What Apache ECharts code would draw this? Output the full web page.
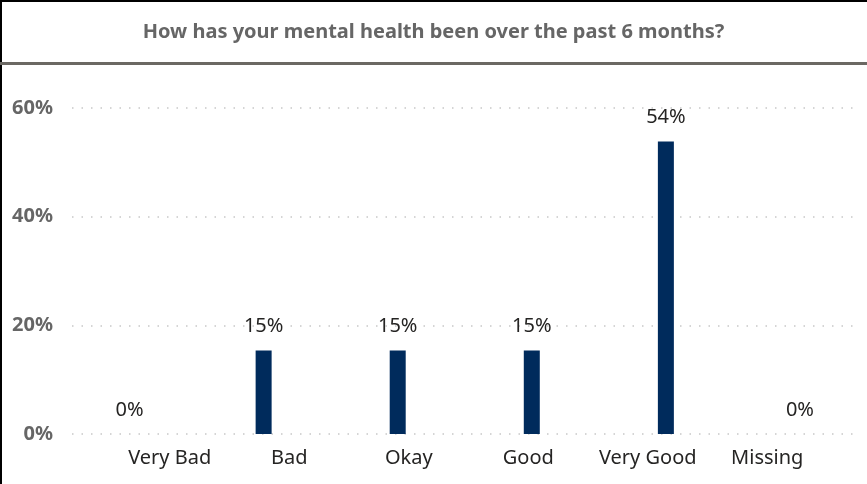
<!DOCTYPE html>
<html><head><meta charset="utf-8">
<script src="https://cdn.jsdelivr.net/npm/echarts@6/dist/echarts.min.js"></script>
<style>
html,body{margin:0;padding:0;background:#fff;}
#wrap{position:relative;width:867px;height:484px;overflow:hidden;}
#chart{width:867px;height:484px;}
</style></head>
<body><div id="wrap"><div id="chart"></div></div>
<script>
const titleText = 'How has your mental health been over the past 6 months?';
const categories = ['Very Bad', 'Bad', 'Okay', 'Good', 'Very Good', 'Missing'];
const values = [0, 15.38, 15.38, 15.38, 53.85, 0];
const yTicks = [0, 20, 40, 60];

const font = '"Segoe UI", "Noto Sans", "Open Sans", sans-serif';
const chart = echarts.init(document.getElementById('chart'), null, {renderer: 'canvas'});
const gridTop = 108, gridBottom = 484 - 434;
const yMax = 60;
chart.setOption({
  animation: false,
  title: {
    text: titleText, left: 'center', top: 17,
    textStyle: {fontFamily: font, fontSize: 20, fontWeight: 'bold', color: '#666666'}
  },
  graphic: [
    {type: 'rect', shape: {x: 0, y: 0, width: 2, height: 484}, style: {fill: '#000'}, silent: true},
    {type: 'rect', shape: {x: 0, y: 0, width: 867, height: 2}, style: {fill: '#000'}, silent: true},
    {type: 'rect', shape: {x: 0, y: 62, width: 867, height: 3}, style: {fill: '#6b6863'}, silent: true}
  ],
  grid: [
    {left: 72, right: 7, top: gridTop, bottom: gridBottom},
    {left: 62.5, right: -5.5, top: gridTop, bottom: gridBottom},
    {left: 110, right: 40, top: gridTop, bottom: gridBottom}
  ],
  xAxis: [
    {gridIndex: 0, type: 'category', data: categories, show: false},
    {gridIndex: 1, type: 'category', data: categories, show: false},
    {gridIndex: 2, type: 'category', data: categories,
      axisLine: {show: false}, axisTick: {show: false},
      axisLabel: {interval: 0, hideOverlap: false, fontFamily: font, fontSize: 20, color: '#252423', margin: 14}}
  ],
  yAxis: [
    {gridIndex: 0, type: 'value', min: 0, max: yMax, interval: 20,
      axisLine: {show: false}, axisTick: {show: false},
      splitLine: {lineStyle: {type: [1.5, 8], color: '#c8c8c8', width: 1.5}},
      axisLabel: {fontFamily: font, fontSize: 20, fontWeight: 'bold', color: '#666666', margin: 19,
        formatter: v => yTicks.includes(v) ? v + '%' : ''}},
    {gridIndex: 1, type: 'value', min: 0, max: yMax, show: false},
    {gridIndex: 2, type: 'value', min: 0, max: yMax, show: false}
  ],
  series: [{
    type: 'bar', xAxisIndex: 1, yAxisIndex: 1, data: values, barWidth: 16,
    itemStyle: {color: '#002b5c'},
    label: {show: true, position: 'top', distance: 14,
      fontFamily: font, fontSize: 20, color: '#252423',
      formatter: p => Math.round(p.value) + '%'}
  }]
});
</script></body></html>
